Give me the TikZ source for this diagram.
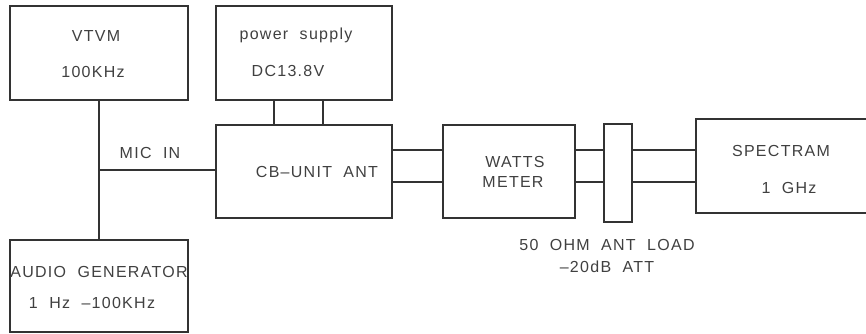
\documentclass[tikz,border=0pt]{standalone}
\usepackage{fontspec}
\setmainfont{Liberation Sans}[LetterSpace=8]
\usetikzlibrary{positioning, calc}

\tikzset{
    unit/.style={draw=black!80, line width=0.8pt, rectangle, inner sep=0pt},
    lbl/.style={font=\fontsize{9.1}{10}\selectfont, text=black!75, inner sep=0pt},
    wire/.style={draw=black!80, line width=0.8pt}
}

\begin{document}
\begin{tikzpicture}[x=0.02cm, y=-0.02cm]
    \useasboundingbox (0,0) rectangle (866,334);

    % instruments
    \node[unit, minimum width=3.56cm, minimum height=1.88cm] (vtvm) at (99,53) {};
    \node[unit, minimum width=3.52cm, minimum height=1.88cm] (psu) at (304,53) {};
    \node[unit, minimum width=3.52cm, minimum height=1.86cm] (cb) at (304,171.5) {};
    \node[unit, minimum width=3.56cm, minimum height=1.84cm] (audio) at (99,286) {};
    \node[unit, minimum width=2.64cm, minimum height=1.86cm] (watts) at (509,171.5) {};
    \node[unit, minimum width=0.56cm, minimum height=1.96cm] (load) at (618,173) {};
    \node[unit, minimum width=4.2cm, minimum height=1.88cm] (spec) at (801,166) {};

    % texts
    \node[lbl] (vtvmA) at (96,36) {VTVM};
    \node[lbl] (vtvmB) at (93,72) {100KHz};
    \node[lbl] (psuA) at (296,35) {power\ \ supply};
    \node[lbl] (psuB) at (288,71) {DC13.8V};
    \node[lbl] (micin) at (150,153) {MIC\ \ IN};
    \node[lbl] (cbA) at (317,172) {CB--UNIT\ \ ANT};
    \node[lbl] (audioA) at (99,272) {AUDIO\ \ GENERATOR};
    \node[lbl] (audioB) at (92,303) {1\ \ Hz\ \ --100KHz};
    \node[lbl] (wattsA) at (515,162) {WATTS};
    \node[lbl] (wattsB) at (513,182) {METER};
    \node[lbl] (specA) at (781,151) {SPECTRAM};
    \node[lbl] (specB) at (789,188) {1\ \ GHz};
    \node[lbl] (loadA) at (607,245) {50\ \ OHM\ \ ANT\ \ LOAD};
    \node[lbl] (loadB) at (607,267) {--20dB\ \ ATT};

    % audio line
    \draw[wire] (vtvm.south) -- (audio.north);
    \draw[wire] (vtvm.south |- 0,170) -- (cb.west |- 0,170);

    % supply leads
    \foreach \xx in {274,323} {
        \draw[wire] (psu.south -| \xx,0) -- (cb.north -| \xx,0);
    }

    % coax pairs
    \foreach \yy in {150,182} {
        \draw[wire] (cb.east |- 0,\yy) -- (watts.west |- 0,\yy);
        \draw[wire] (watts.east |- 0,\yy) -- (load.west |- 0,\yy);
        \draw[wire] (load.east |- 0,\yy) -- (spec.west |- 0,\yy);
    }
\end{tikzpicture}
\end{document}
